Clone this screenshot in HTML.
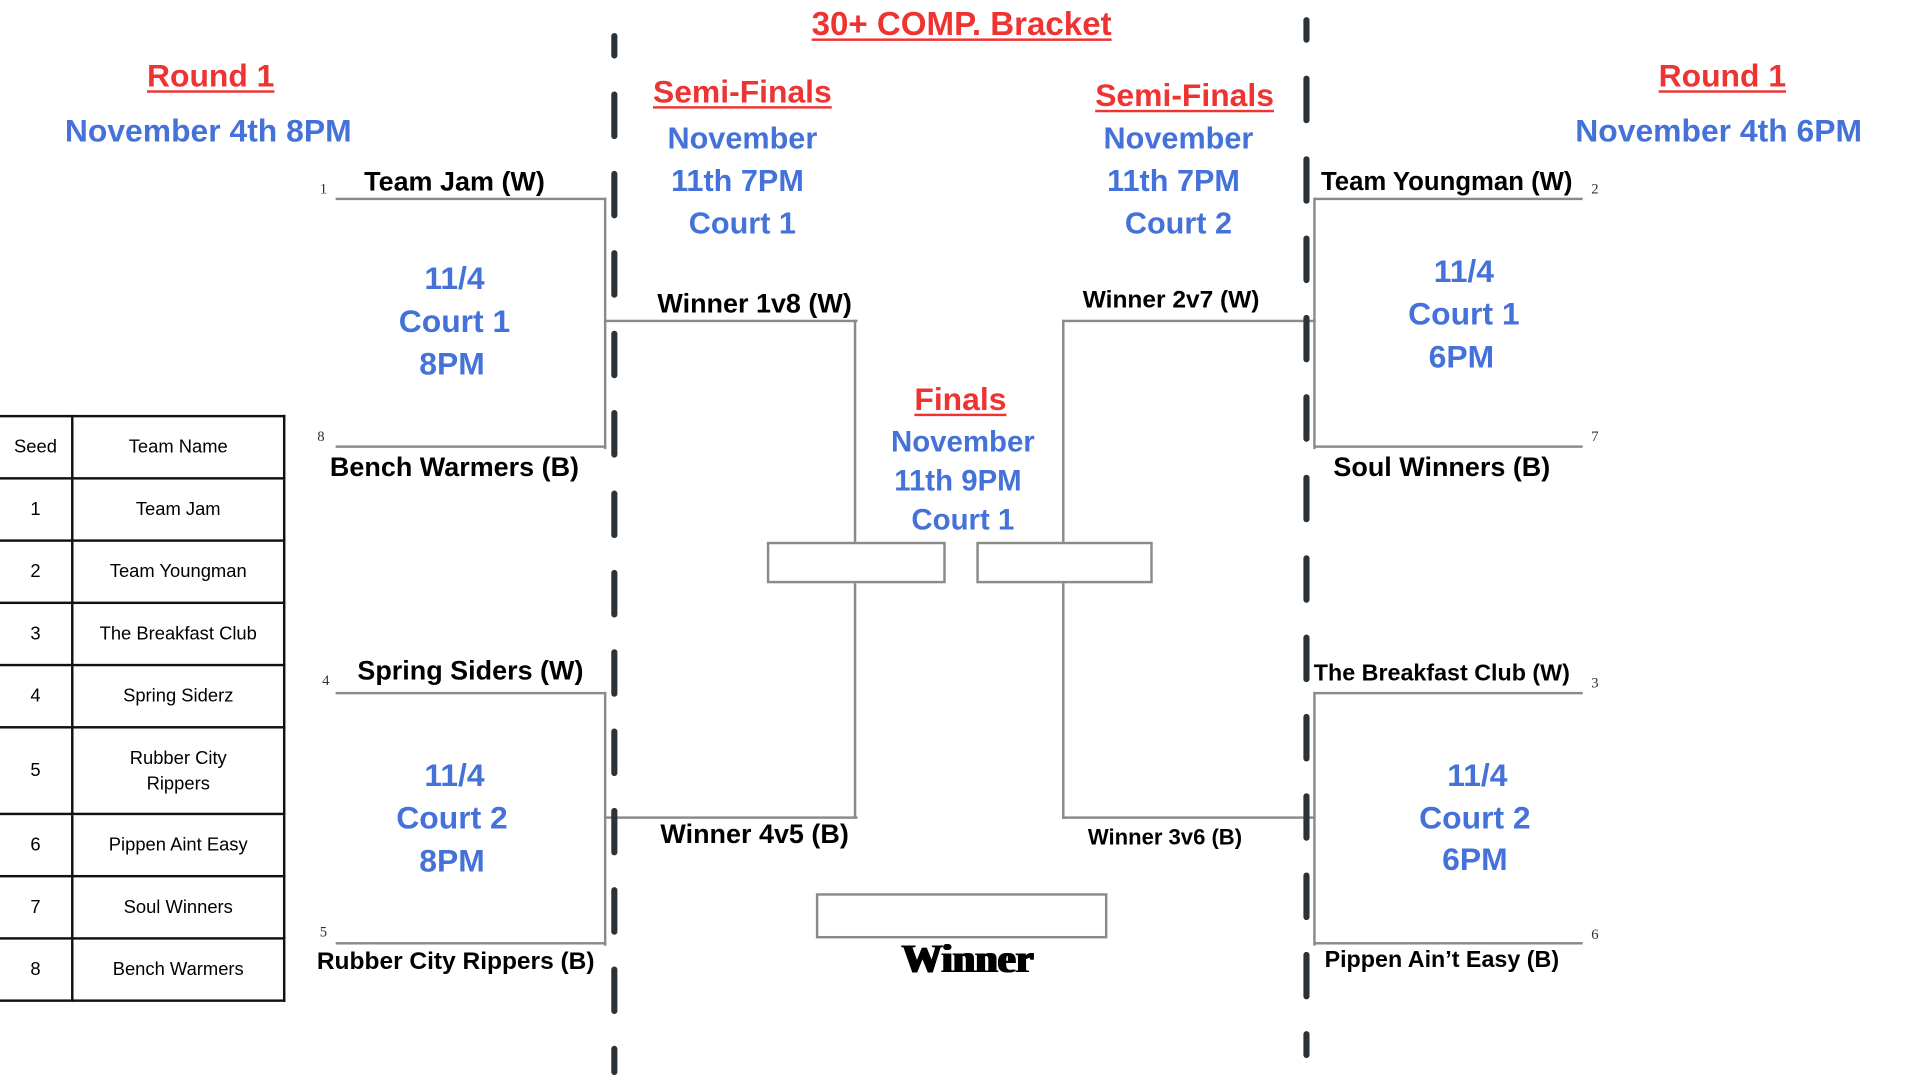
<!DOCTYPE html>
<html><head><meta charset="utf-8"><style>
html,body{margin:0;padding:0;background:#fff;width:1920px;height:1080px;overflow:hidden}
#w{position:absolute;left:0;top:0;width:1570px;height:885px;transform:scale(1.225,1.2203);transform-origin:0 0;font-family:"Liberation Sans",sans-serif}
.t{position:absolute;transform:translate(-50%,-50%);white-space:nowrap;font-weight:bold;line-height:1}
.r{color:#ee3333;text-decoration:underline;text-decoration-thickness:2px;text-underline-offset:3px;font-size:26px}
.b{color:#4472d8}
.k{color:#000}
.h,.v{position:absolute;background:#8a8a8a}
.h{height:2px}.v{width:2px}
.box{position:absolute;border:2px solid #8a8a8a;box-sizing:border-box;background:#fff}
.dash{position:absolute;width:5px;border-radius:3px;background:#2b3338}
.s{position:absolute;font-family:"Liberation Serif",serif;font-size:12px;color:#333;transform:translate(-50%,-50%)}
table{position:absolute;left:-2px;top:340px;border-collapse:collapse;font-size:15px;font-family:"Liberation Sans",sans-serif}
td{border:2px solid #111;text-align:center;padding:0;height:49px}
</style></head><body><div id="w">

<div class="t r" style="left:785px;top:20px;font-size:27px">30+ COMP. Bracket</div>
<div class="t r" style="left:172px;top:62px">Round 1</div>
<div class="t r" style="left:1406px;top:62px">Round 1</div>
<div class="t b" style="left:170px;top:107px;font-size:26px">November 4th 8PM</div>
<div class="t b" style="left:1403px;top:107px;font-size:26px">November 4th 6PM</div>
<div class="t r" style="left:606px;top:75px">Semi-Finals</div>
<div class="t r" style="left:967px;top:78px">Semi-Finals</div>
<div class="t b" style="left:606px;top:114px;font-size:25px">November</div>
<div class="t b" style="left:602px;top:149px;font-size:25px">11th 7PM</div>
<div class="t b" style="left:606px;top:184px;font-size:25px">Court 1</div>
<div class="t b" style="left:962px;top:114px;font-size:25px">November</div>
<div class="t b" style="left:958px;top:149px;font-size:25px">11th 7PM</div>
<div class="t b" style="left:962px;top:184px;font-size:25px">Court 2</div>
<div class="t r" style="left:784px;top:327px">Finals</div>
<div class="t b" style="left:786px;top:363px;font-size:24px">November</div>
<div class="t b" style="left:782px;top:395px;font-size:24px">11th 9PM</div>
<div class="t b" style="left:786px;top:427px;font-size:24px">Court 1</div>

<div class="t b" style="left:371px;top:228px;font-size:26px">11/4</div>
<div class="t b" style="left:371px;top:263px;font-size:26px">Court 1</div>
<div class="t b" style="left:369px;top:298px;font-size:26px">8PM</div>
<div class="t b" style="left:371px;top:635px;font-size:26px">11/4</div>
<div class="t b" style="left:369px;top:670px;font-size:26px">Court 2</div>
<div class="t b" style="left:369px;top:705px;font-size:26px">8PM</div>
<div class="t b" style="left:1195px;top:222px;font-size:26px">11/4</div>
<div class="t b" style="left:1195px;top:257px;font-size:26px">Court 1</div>
<div class="t b" style="left:1193px;top:292px;font-size:26px">6PM</div>
<div class="t b" style="left:1206px;top:635px;font-size:26px">11/4</div>
<div class="t b" style="left:1204px;top:670px;font-size:26px">Court 2</div>
<div class="t b" style="left:1204px;top:704px;font-size:26px">6PM</div>

<div class="t k" style="left:371px;top:149px;font-size:22px">Team Jam (W)</div>
<div class="t k" style="left:371px;top:383px;font-size:22px">Bench Warmers (B)</div>
<div class="t k" style="left:616px;top:249px;font-size:22px">Winner 1v8 (W)</div>
<div class="t k" style="left:384px;top:550px;font-size:22px">Spring Siders (W)</div>
<div class="t k" style="left:372px;top:788px;font-size:20px">Rubber City Rippers (B)</div>
<div class="t k" style="left:616px;top:684px;font-size:22px">Winner 4v5 (B)</div>
<div class="t k" style="left:956px;top:246px;font-size:20px">Winner 2v7 (W)</div>
<div class="t k" style="left:1181px;top:149px;font-size:21px">Team Youngman (W)</div>
<div class="t k" style="left:1177px;top:383px;font-size:22px">Soul Winners (B)</div>
<div class="t k" style="left:1177px;top:552px;font-size:19px">The Breakfast Club (W)</div>
<div class="t k" style="left:951px;top:686px;font-size:18px">Winner 3v6 (B)</div>
<div class="t k" style="left:1177px;top:787px;font-size:19px">Pippen Ain’t Easy (B)</div>
<div class="t k" style="left:790px;top:787px;font-size:33px;font-family:'Liberation Serif',serif;font-weight:900;text-shadow:1px 0 0 #000,-1px 0 0 #000">Winner</div>

<div class="s" style="left:264px;top:155px">1</div>
<div class="s" style="left:262px;top:358px">8</div>
<div class="s" style="left:266px;top:558px">4</div>
<div class="s" style="left:264px;top:764px">5</div>
<div class="s" style="left:1302px;top:155px">2</div>
<div class="s" style="left:1302px;top:358px">7</div>
<div class="s" style="left:1302px;top:560px">3</div>
<div class="s" style="left:1302px;top:766px">6</div>

<div class="h" style="left:274px;top:162px;width:221px"></div>
<div class="v" style="left:493px;top:162px;height:206px"></div>
<div class="h" style="left:274px;top:365px;width:221px"></div>
<div class="h" style="left:493px;top:262px;width:207px"></div>
<div class="v" style="left:697px;top:262px;height:184px"></div>
<div class="v" style="left:697px;top:476px;height:195px"></div>
<div class="h" style="left:493px;top:669px;width:207px"></div>
<div class="h" style="left:274px;top:567px;width:221px"></div>
<div class="v" style="left:493px;top:567px;height:208px"></div>
<div class="h" style="left:274px;top:772px;width:221px"></div>
<div class="h" style="left:1073px;top:162px;width:219px"></div>
<div class="v" style="left:1072px;top:162px;height:206px"></div>
<div class="h" style="left:1073px;top:365px;width:219px"></div>
<div class="h" style="left:867px;top:262px;width:207px"></div>
<div class="v" style="left:867px;top:262px;height:184px"></div>
<div class="v" style="left:867px;top:476px;height:195px"></div>
<div class="h" style="left:867px;top:669px;width:207px"></div>
<div class="h" style="left:1073px;top:567px;width:219px"></div>
<div class="v" style="left:1072px;top:567px;height:208px"></div>
<div class="h" style="left:1073px;top:772px;width:219px"></div>

<div class="box" style="left:626px;top:444px;width:146px;height:34px"></div>
<div class="box" style="left:797px;top:444px;width:144px;height:34px"></div>
<div class="box" style="left:666px;top:732px;width:238px;height:37px"></div>

<div class="dash" style="left:499px;top:27px;height:21px"></div>
<div class="dash" style="left:499px;top:75px;height:39px"></div>
<div class="dash" style="left:499px;top:140px;height:39px"></div>
<div class="dash" style="left:499px;top:205px;height:39px"></div>
<div class="dash" style="left:499px;top:271px;height:39px"></div>
<div class="dash" style="left:499px;top:336px;height:39px"></div>
<div class="dash" style="left:499px;top:402px;height:39px"></div>
<div class="dash" style="left:499px;top:467px;height:39px"></div>
<div class="dash" style="left:499px;top:532px;height:39px"></div>
<div class="dash" style="left:499px;top:597px;height:39px"></div>
<div class="dash" style="left:499px;top:662px;height:39px"></div>
<div class="dash" style="left:499px;top:727px;height:39px"></div>
<div class="dash" style="left:499px;top:792px;height:39px"></div>
<div class="dash" style="left:499px;top:857px;height:24px"></div>

<div class="dash" style="left:1064px;top:14px;height:21px"></div>
<div class="dash" style="left:1064px;top:62px;height:39px"></div>
<div class="dash" style="left:1064px;top:128px;height:39px"></div>
<div class="dash" style="left:1064px;top:193px;height:39px"></div>
<div class="dash" style="left:1064px;top:258px;height:39px"></div>
<div class="dash" style="left:1064px;top:323px;height:39px"></div>
<div class="dash" style="left:1064px;top:389px;height:39px"></div>
<div class="dash" style="left:1064px;top:455px;height:39px"></div>
<div class="dash" style="left:1064px;top:520px;height:39px"></div>
<div class="dash" style="left:1064px;top:585px;height:39px"></div>
<div class="dash" style="left:1064px;top:650px;height:39px"></div>
<div class="dash" style="left:1064px;top:715px;height:39px"></div>
<div class="dash" style="left:1064px;top:780px;height:39px"></div>
<div class="dash" style="left:1064px;top:845px;height:22px"></div>

<table>
<tr><td style="width:58px">Seed</td><td style="width:171px">Team Name</td></tr>
<tr><td>1</td><td>Team Jam</td></tr>
<tr><td>2</td><td>Team Youngman</td></tr>
<tr><td>3</td><td>The Breakfast Club</td></tr>
<tr><td>4</td><td>Spring Siderz</td></tr>
<tr><td style="height:69px">5</td><td style="line-height:21px">Rubber City<br>Rippers</td></tr>
<tr><td>6</td><td>Pippen Aint Easy</td></tr>
<tr><td>7</td><td>Soul Winners</td></tr>
<tr><td>8</td><td>Bench Warmers</td></tr>
</table>
</div></body></html>
